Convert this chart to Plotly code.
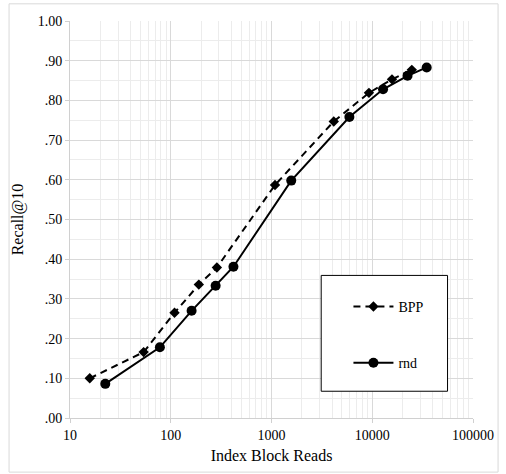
import plotly.graph_objects as go

# Data
bpp_x = [15.7, 53.8, 109, 190, 287, 1084, 4150, 9270, 15700, 24700]
bpp_y = [0.100, 0.166, 0.265, 0.336, 0.379, 0.587, 0.747, 0.819, 0.853, 0.877]
rnd_x = [22.4, 78, 161, 279, 419, 1570, 5930, 12800, 22400, 34700]
rnd_y = [0.086, 0.178, 0.270, 0.333, 0.381, 0.598, 0.758, 0.828, 0.862, 0.883]

x_tickvals = [10, 100, 1000, 10000, 100000]
x_ticktext = ["10", "100", "1000", "10000", "100000"]
y_tickvals = [0.0, 0.1, 0.2, 0.3, 0.4, 0.5, 0.6, 0.7, 0.8, 0.9, 1.0]
y_ticktext = [".00", ".10", ".20", ".30", ".40", ".50", ".60", ".70", ".80", ".90", "1.00"]

x_minor = [m * 10 ** e for e in range(1, 5) for m in range(2, 10)]
y_minor = [i / 20 for i in range(1, 20, 2)]

FONT = "Liberation Serif"

fig = go.Figure()
fig.add_trace(go.Scatter(
    x=bpp_x, y=bpp_y, name="BPP", mode="lines+markers",
    line=dict(color="black", width=2, dash="7px,5px"),
    marker=dict(symbol="diamond", size=8, color="black"),
    legendgroup="a",
))
fig.add_trace(go.Scatter(
    x=rnd_x, y=rnd_y, name="rnd", mode="lines+markers",
    line=dict(color="black", width=2),
    marker=dict(symbol="circle", size=10, color="black"),
    legendgroup="b",
))

W, H = 506, 474
L, R, T, B = 70, 29.3, 20.7, 55.7
pw, ph = W - L - R, H - T - B

def px2paper(px, py):
    return (px - L) / pw, (H - B - py) / ph

x0, y1 = px2paper(8.5, 3.5)
x1, y0 = px2paper(502, 472.5)
lx0, ly1 = px2paper(323.5, 275.5)
lx1, ly0 = px2paper(451, 391.5)

fig.update_layout(
    width=W, height=H, autosize=False,
    margin=dict(l=L, r=R, t=T, b=B),
    paper_bgcolor="white", plot_bgcolor="white",
    font=dict(family=FONT, size=14, color="#000000"),
    showlegend=True,
    legend=dict(
        x=px2paper(351, 0)[0], y=px2paper(0, 291)[1],
        xanchor="left", yanchor="top",
        bgcolor="rgba(0,0,0,0)", borderwidth=0,
        font=dict(family=FONT, size=14, color="#000000"),
        tracegroupgap=35, itemwidth=40,
    ),
    shapes=[
        dict(type="rect", xref="paper", yref="paper", x0=x0, x1=x1, y0=y0, y1=y1,
             line=dict(color="#d9d9d9", width=1), fillcolor="rgba(0,0,0,0)", layer="below"),
        dict(type="rect", xref="paper", yref="paper", x0=lx0, x1=lx1, y0=ly0, y1=ly1,
             line=dict(color="black", width=1), fillcolor="white", layer="above"),
    ],
)

fig.update_xaxes(
    type="log", range=[1, 5],
    tickvals=x_tickvals, ticktext=x_ticktext,
    showgrid=True, gridcolor="#d9d9d9", gridwidth=1,
    showline=True, linecolor="#d0d0d0", linewidth=1,
    ticks="outside", ticklen=4, tickcolor="#d0d0d0",
    minor=dict(tickvals=x_minor, showgrid=True, gridcolor="#ececec", gridwidth=1, ticks=""),
    zeroline=False, mirror=False,
    title=dict(text="Index Block Reads", font=dict(family=FONT, size=16), standoff=8),
    tickfont=dict(family=FONT, size=14),
)
fig.update_yaxes(
    range=[0, 1],
    tickvals=y_tickvals, ticktext=y_ticktext,
    showgrid=True, gridcolor="#d9d9d9", gridwidth=1,
    showline=True, linecolor="#d0d0d0", linewidth=1,
    ticks="outside", ticklen=4, tickcolor="#d0d0d0",
    minor=dict(tickvals=y_minor, showgrid=True, gridcolor="#ececec", gridwidth=1, ticks=""),
    zeroline=False,
    title=dict(text="Recall@10", font=dict(family=FONT, size=16), standoff=10),
    tickfont=dict(family=FONT, size=14),
)

fig.write_html("out.html")
